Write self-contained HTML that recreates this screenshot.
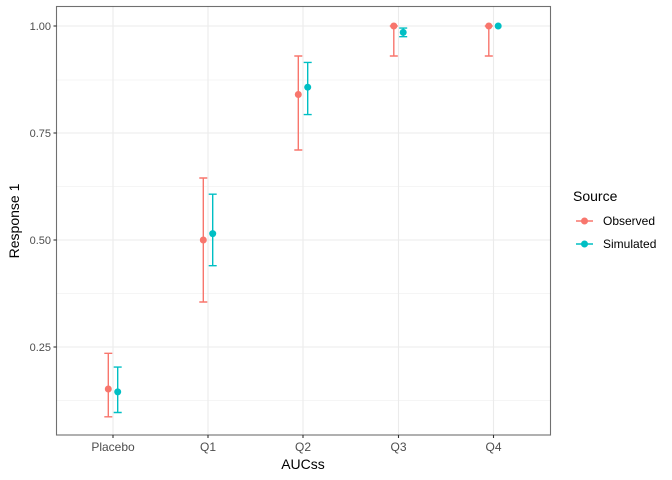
<!DOCTYPE html>
<html><head><style>body{margin:0;background:#fff}svg{display:block}</style></head><body>
<svg width="672" height="480" xmlns="http://www.w3.org/2000/svg" font-family="Liberation Sans, sans-serif">
<rect x="56.5" y="6.5" width="494" height="428.5" fill="#fff"/>
<g stroke="#ebebeb" stroke-width="0.55">
<line x1="56.5" x2="550.5" y1="80" y2="80"/><line x1="56.5" x2="550.5" y1="186.5" y2="186.5"/>
<line x1="56.5" x2="550.5" y1="293.5" y2="293.5"/><line x1="56.5" x2="550.5" y1="400.5" y2="400.5"/>
</g>
<g stroke="#ebebeb" stroke-width="1.1">
<line x1="56.5" x2="550.5" y1="26" y2="26"/><line x1="56.5" x2="550.5" y1="133" y2="133"/>
<line x1="56.5" x2="550.5" y1="240" y2="240"/><line x1="56.5" x2="550.5" y1="347" y2="347"/>
<line y1="6.5" y2="435" x1="113" x2="113"/><line y1="6.5" y2="435" x1="208" x2="208"/>
<line y1="6.5" y2="435" x1="303" x2="303"/><line y1="6.5" y2="435" x1="398.5" x2="398.5"/>
<line y1="6.5" y2="435" x1="493.5" x2="493.5"/>
</g>
<g stroke-width="1.4" fill="none" stroke="#F8766D">
<path d="M108.3 353.3V416.8M104.3 353.3H112.3M104.3 416.8H112.3"/>
<path d="M203.3 178V302M199.3 178H207.3M199.3 302H207.3"/>
<path d="M298.3 56V150M294.3 56H302.3M294.3 150H302.3"/>
<path d="M393.8 26V56M389.8 56H397.8M389.8 26H397.8"/>
<path d="M488.8 26V56M484.8 56H492.8M484.8 26H492.8"/>
</g>
<g stroke-width="1.4" fill="none" stroke="#00BFC4">
<path d="M117.7 367.1V412.5M113.7 367.1H121.7M113.7 412.5H121.7"/>
<path d="M212.7 194.2V265.7M208.7 194.2H216.7M208.7 265.7H216.7"/>
<path d="M307.7 62.4V114.6M303.7 62.4H311.7M303.7 114.6H311.7"/>
<path d="M403.2 28.1V36.7M399.2 28.1H407.2M399.2 36.7H407.2"/>
</g>
<g fill="#F8766D">
<circle cx="108.3" cy="389" r="3.5"/><circle cx="203.3" cy="240" r="3.5"/><circle cx="298.3" cy="94.5" r="3.5"/>
<circle cx="393.8" cy="26" r="3.5"/><circle cx="488.8" cy="26" r="3.5"/>
</g>
<g fill="#00BFC4">
<circle cx="117.7" cy="391.9" r="3.5"/><circle cx="212.7" cy="233.6" r="3.5"/><circle cx="307.7" cy="87.2" r="3.5"/>
<circle cx="403.2" cy="32.4" r="3.5"/><circle cx="498.2" cy="26" r="3.5"/>
</g>
<rect x="56.5" y="6.5" width="494" height="428.5" fill="none" stroke="#333" stroke-width="1.1" opacity="0.7"/>
<g stroke="#333" stroke-width="1.1">
<line x1="53.5" x2="56.5" y1="26" y2="26"/><line x1="53.5" x2="56.5" y1="133" y2="133"/>
<line x1="53.5" x2="56.5" y1="240" y2="240"/><line x1="53.5" x2="56.5" y1="347" y2="347"/>
<line y1="435" y2="438" x1="113" x2="113"/><line y1="435" y2="438" x1="208" x2="208"/>
<line y1="435" y2="438" x1="303" x2="303"/><line y1="435" y2="438" x1="398.5" x2="398.5"/>
<line y1="435" y2="438" x1="493.5" x2="493.5"/>
</g>
<g font-size="11" fill="#4d4d4d" text-anchor="end">
<text x="51" y="30">1.00</text><text x="51" y="137">0.75</text><text x="51" y="244">0.50</text><text x="51" y="351">0.25</text>
</g>
<g font-size="12" fill="#4d4d4d" text-anchor="middle">
<text x="113" y="451">Placebo</text><text x="208" y="451">Q1</text><text x="303" y="451">Q2</text>
<text x="398.5" y="451">Q3</text><text x="493.5" y="451">Q4</text>
</g>
<text x="303" y="469" font-size="14" text-anchor="middle">AUCss</text>
<text transform="translate(19,221) rotate(-90)" font-size="14" text-anchor="middle">Response 1</text>
<text x="573" y="201" font-size="14">Source</text>
<line x1="576" x2="593" y1="221" y2="221" stroke="#F8766D" stroke-width="1.4"/><circle cx="584.5" cy="221" r="3.5" fill="#F8766D"/>
<line x1="576" x2="593" y1="244" y2="244" stroke="#00BFC4" stroke-width="1.4"/><circle cx="584.5" cy="244" r="3.5" fill="#00BFC4"/>
<text x="603" y="225" font-size="12">Observed</text>
<text x="603" y="248" font-size="12">Simulated</text>
</svg>
</body></html>
